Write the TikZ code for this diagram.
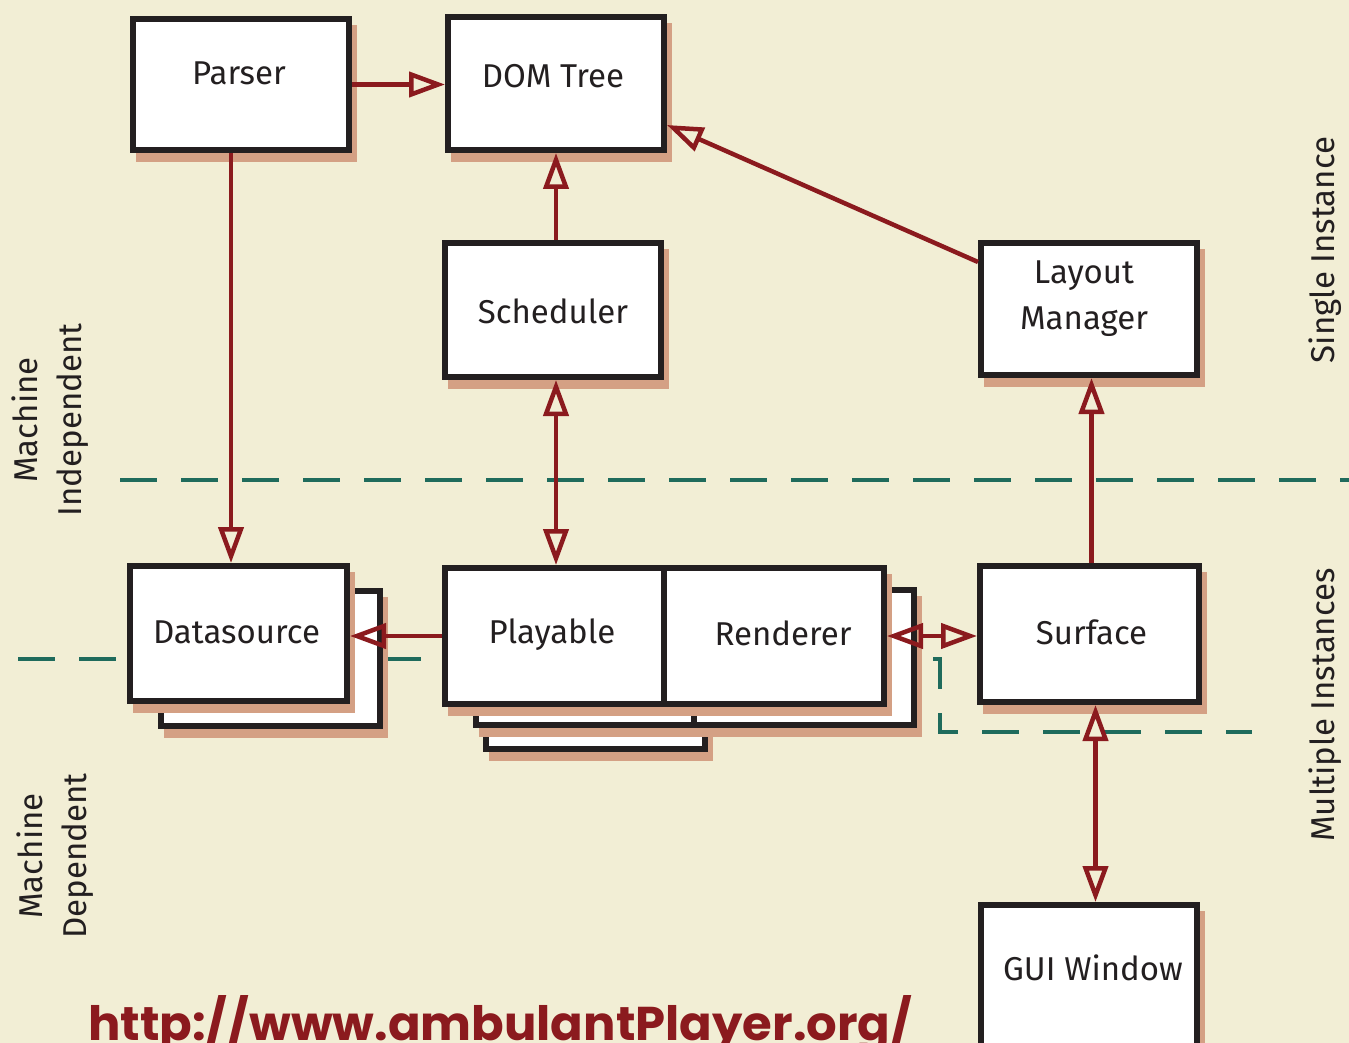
\documentclass[tikz,border=0pt]{standalone}
\usepackage{fontspec}
\setmainfont{Fira Sans}
\newfontfamily\urlfont{Poppins}
\usetikzlibrary{arrows.meta}
\definecolor{bgc}{HTML}{F2EED5}
\definecolor{shc}{HTML}{D4A084}
\definecolor{brd}{HTML}{231F20}
\definecolor{arr}{HTML}{8B1A1E}
\definecolor{dsh}{HTML}{1F6B5C}
% #1 text offset (x,y up), #2 name, #3-#6 outer box, #7 text
\newcommand\mybox[7][0,0]{%
  \fill[shad] ({#3+6},{#4+9}) rectangle ({#5+5},{#6+9});
  \node[box, minimum width={(#5-#3-6)*1pt}, minimum height={(#6-#4-6)*1pt}] (#2) at ({(#3+#5)/2},{(#4+#6)/2}) {};
  \node[boxtext] (#2-t) at ([shift={(#1)}]#2.center) {#7};}
\begin{document}
\begin{tikzpicture}[x=1pt,y=-1pt,
  box/.style={draw=brd, line width=6pt, fill=white, inner sep=0pt},
  boxtext/.style={inner sep=0pt, align=center, text=brd,
    font=\fontsize{33}{46}\selectfont},
  shad/.style={fill=shc},
  conn/.style={draw=arr, line width=4.5pt},
  >={Triangle[open, length=36pt, width=25pt]},
  dline/.style={draw=dsh, line width=4.5pt, dash pattern=on 37pt off 24pt},
  side/.style={rotate=90, align=center, text=brd, font=\fontsize{33}{44}\selectfont, inner sep=0pt}]
\fill[bgc] (0,0) rectangle (1349,1043);
\useasboundingbox (0,0) rectangle (1349,1043);
% dashed separators
\coordinate (d1a) at (120,480);
\coordinate (d1b) at (1349,480);
\draw[dline] (d1a) -- (d1b);
\coordinate (d2a) at (18,659);
\coordinate (d2b) at (940,659);
\coordinate (d2c) at (940,732);
\coordinate (d2d) at (1252,732);
\draw[dline] (d2a) -- (d2b) -- (d2c) -- (d2d);
% back copies
\mybox{dsb}{158}{588}{383}{729}{}
\mybox{pb2}{483}{610}{708}{752}{}
\mybox{pb1}{473}{587}{698}{728}{}
\mybox{rb}{691}{587}{917}{728}{}
% main boxes
\mybox[-2pt,11pt]{parser}{130}{16}{352}{153}{Parser}
\mybox[-3pt,7pt]{dom}{445}{14}{667}{153}{DOM Tree}
\mybox[0pt,-1pt]{sched}{442}{240}{664}{380}{Scheduler}
\mybox[-5pt,10pt]{lm}{978}{240}{1200}{378}{Layout\\Manager}
\mybox[-2pt,1pt]{ds}{127}{563}{350}{704}{Datasource}
\mybox[-3pt,1pt]{play}{442}{565}{668}{707}{Playable}
\mybox[9pt,3pt]{rend}{661}{565}{887}{707}{Renderer}
\mybox[2pt,2pt]{surf}{977}{563}{1202}{705}{Surface}
\mybox[4pt,9pt]{gui}{978}{902}{1200}{1052}{GUI Window}
% connectors
\draw[conn,->] (parser.east) -- (parser.east -| dom.west);
\draw[conn,->] (dom.south |- sched.north) -- (dom.south);
\draw[conn,->] ([yshift=-22pt]lm.north west) -- ([yshift=28pt]dom.south east);
\draw[conn,->] ([xshift=-10pt]parser.south) -- ([xshift=-10pt]parser.south |- ds.north);
\draw[conn,<->] ([xshift=3pt]sched.south) -- ([xshift=3pt]sched.south |- play.north);
\draw[conn,->] (play.west) -- (play.west -| ds.east);
\draw[conn,<->] (rend.east) -- (rend.east -| surf.west);
\draw[conn,->] ([xshift=2pt]surf.north) -- ([xshift=2pt]surf.north |- lm.south);
\draw[conn,<->] ([xshift=6pt]surf.south) -- ([xshift=6pt]surf.south |- gui.north);
% side labels
\node[side] (mi) at (50,420) {Machine\\Independent};
\node[side] (md) at (55,856) {Machine\\Dependent};
\node[side] (si) at (1325,250) {Single Instance};
\node[side] (mu) at (1325,705) {Multiple Instances};
% url
\node[anchor=base west, inner sep=0pt, text=arr] (url) at (88,1040)
  {\resizebox{824pt}{45pt}{\urlfont\bfseries http://www.ambulantPlayer.org/}};
\end{tikzpicture}
\end{document}
